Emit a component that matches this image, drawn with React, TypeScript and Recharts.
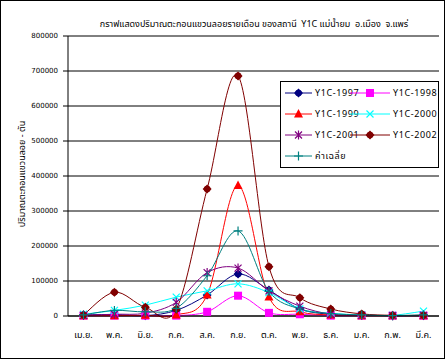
import React from 'react'
import { LineChart, Line, XAxis, YAxis, CartesianGrid, ReferenceLine, Legend } from 'recharts'

const months = ['เม.ย.', 'พ.ค.', 'มิ.ย.', 'ก.ค.', 'ส.ค.', 'ก.ย.', 'ต.ค.', 'พ.ย.', 'ธ.ค.', 'ม.ค.', 'ก.พ.', 'มี.ค.']
const y1997 = [3000, 4000, 1000, 16000, 60000, 120000, 74000, 20000, 5000, 2000, 1000, 1000]
const y1998 = [1000, 1000, 1000, 1000, 12000, 58000, 9000, 5000, 1000, 1000, 1000, 1000]
const y1999 = [1000, 1000, 2000, 3000, 60000, 373000, 54000, 12000, 3000, 1000, 1000, 1000]
const y2000 = [5000, 16000, 31000, 54000, 72000, 92000, 67000, 20000, 8000, 3000, 2000, 14000]
const y2001 = [2000, 5000, 8000, 39000, 124000, 137000, 72000, 28000, 5000, 2000, 1000, 2000]
const y2002 = [3000, 68000, 25000, 19000, 363000, 686000, 141000, 52000, 20000, 6000, 2000, 2000]
const average = [3000, 16000, 12000, 22000, 115000, 243000, 70000, 20000, 7000, 3000, 1000, 3000]
const yTicks = [0, 100000, 200000, 300000, 400000, 500000, 600000, 700000, 800000]
const edgeTicks = [0, 1, 2, 3, 4, 5, 6, 7, 8, 9, 10, 11, 12]

const data = months.map((m, i) => ({
  month: m,
  y1997: y1997[i],
  y1998: y1998[i],
  y1999: y1999[i],
  y2000: y2000[i],
  y2001: y2001[i],
  y2002: y2002[i],
  avg: average[i],
}))

type Kind = 'diamond' | 'square' | 'triangle' | 'cross' | 'star' | 'plus'

const series: { key: string; name: string; color: string; kind: Kind }[] = [
  { key: 'y1997', name: 'Y1C-1997', color: '#000080', kind: 'diamond' },
  { key: 'y1998', name: 'Y1C-1998', color: '#FF00FF', kind: 'square' },
  { key: 'y1999', name: 'Y1C-1999', color: '#FF0000', kind: 'triangle' },
  { key: 'y2000', name: 'Y1C-2000', color: '#00FFFF', kind: 'cross' },
  { key: 'y2001', name: 'Y1C-2001', color: '#800080', kind: 'star' },
  { key: 'y2002', name: 'Y1C-2002', color: '#800000', kind: 'diamond' },
  { key: 'avg', name: 'ค่าเฉลี่ย', color: '#008080', kind: 'plus' },
]

const FONT = '"Noto Sans Thai", Tahoma, "DejaVu Sans", sans-serif'

// excel style smoothing (catmull-rom as bezier)
const excelSmooth = (context: any) => {
  let pts: number[][] = []
  return {
    areaStart() {},
    areaEnd() {},
    lineStart() {
      pts = []
    },
    point(x: number, y: number) {
      pts.push([+x, +y])
    },
    lineEnd() {
      const n = pts.length
      if (!n) return
      context.moveTo(pts[0][0], pts[0][1])
      for (let i = 0; i < n - 1; i++) {
        const p0 = pts[Math.max(i - 1, 0)]
        const p1 = pts[i]
        const p2 = pts[i + 1]
        const p3 = pts[Math.min(i + 2, n - 1)]
        context.bezierCurveTo(
          p1[0] + (p2[0] - p0[0]) / 6,
          p1[1] + (p2[1] - p0[1]) / 6,
          p2[0] - (p3[0] - p1[0]) / 6,
          p2[1] - (p3[1] - p1[1]) / 6,
          p2[0],
          p2[1]
        )
      }
    },
  }
}

const Marker = ({ cx, cy, kind, color }: { cx: number; cy: number; kind: Kind; color: string }) => {
  if (kind === 'diamond')
    return (
      <g>
        <path d={`M${cx},${cy - 4.5}L${cx + 4.5},${cy}L${cx},${cy + 4.5}L${cx - 4.5},${cy}Z`} fill={color} />
        <circle cx={cx} cy={cy} r={3.3} fill={color} />
      </g>
    )
  if (kind === 'square') return <rect x={cx - 4} y={cy - 4} width={8} height={8} fill={color} />
  if (kind === 'triangle')
    return <path d={`M${cx},${cy - 5}L${cx + 4.5},${cy + 3.5}L${cx - 4.5},${cy + 3.5}Z`} fill={color} />
  if (kind === 'cross')
    return (
      <path d={`M${cx - 3.5},${cy - 3.5}L${cx + 3.5},${cy + 3.5}M${cx + 3.5},${cy - 3.5}L${cx - 3.5},${cy + 3.5}`} stroke={color} strokeWidth={1.2} />
    )
  if (kind === 'star')
    return (
      <path
        d={`M${cx - 3.5},${cy - 3.5}L${cx + 3.5},${cy + 3.5}M${cx + 3.5},${cy - 3.5}L${cx - 3.5},${cy + 3.5}M${cx},${cy - 4.5}L${cx},${cy + 4.5}`}
        stroke={color}
        strokeWidth={1.2}
      />
    )
  return <path d={`M${cx - 4.5},${cy}L${cx + 4.5},${cy}M${cx},${cy - 4.5}L${cx},${cy + 4.5}`} stroke={color} strokeWidth={1.2} />
}

const LegendBox = () => (
  <div
    style={{
      width: 157,
      height: 85,
      border: '1px solid #000',
      background: '#fff',
      position: 'relative',
      fontFamily: FONT,
      fontSize: 9,
    }}
  >
    {series.map((s, i) => {
      const col = i % 2
      const row = Math.floor(i / 2)
      const left = col === 0 ? 4 : 69
      const top = 11 + row * 21
      const lineW = col === 0 ? 27 : 40
      return (
        <div key={s.key} style={{ position: 'absolute', left, top: top - 7, height: 14, display: 'flex', alignItems: 'center' }}>
          <svg width={lineW} height={14}>
            <line x1={0} y1={7} x2={lineW} y2={7} stroke={s.color} strokeWidth={1} />
            <Marker cx={lineW / 2} cy={7} kind={s.kind} color={s.color} />
          </svg>
          <span style={{ marginLeft: 3, letterSpacing: 0.6, whiteSpace: 'nowrap' }}>{s.name}</span>
        </div>
      )
    })}
  </div>
)

export default function App() {
  return (
    <div style={{ position: 'absolute', left: 0, top: 0, width: 445, height: 359, background: '#fff' }}>
      <LineChart width={445} height={359} data={data} margin={{ top: 36, right: 6, bottom: 13, left: 8 }}>
        <CartesianGrid vertical={false} stroke="#000" strokeWidth={1} />
        <XAxis
          xAxisId="edge"
          type="number"
          domain={[0, 12]}
          ticks={edgeTicks}
          tick={false}
          axisLine={false}
          tickLine={{ stroke: '#000' }}
          tickSize={4}
          height={0}
        />
        <XAxis
          xAxisId="cat"
          dataKey="month"
          interval={0}
          padding={{ left: 15.5, right: 15.5 }}
          tickLine={false}
          axisLine={{ stroke: '#000' }}
          tickSize={4}
          tickMargin={12}
          height={30}
          tick={{ fontSize: 9, fill: '#000', fontFamily: FONT }}
        />
        <YAxis
          domain={[0, 800000]}
          ticks={yTicks}
          interval={0}
          width={60}
          axisLine={{ stroke: '#000' }}
          tickLine={{ stroke: '#000' }}
          tickSize={5}
          tickMargin={5}
          tick={{ fontSize: 7, fill: '#000', fontFamily: '"DejaVu Sans", sans-serif' }}
        />
        <ReferenceLine y={800000} xAxisId="cat" stroke="#808080" />
        <ReferenceLine x={12} xAxisId="edge" stroke="#808080" />
        {series.map((s) => (
          <Line
            key={s.key}
            xAxisId="cat"
            dataKey={s.key}
            name={s.name}
            stroke={s.color}
            strokeWidth={1}
            type={excelSmooth as any}
            isAnimationActive={false}
            dot={(p: any) => <Marker key={`${s.key}-${p.index}`} cx={p.cx} cy={p.cy} kind={s.kind} color={s.color} />}
            activeDot={false}
          />
        ))}
        <Legend
          layout="horizontal"
          verticalAlign="middle"
          align="center"
          wrapperStyle={{ left: 280, top: 81, width: 159, height: 87 }}
          content={() => <LegendBox />}
        />
      </LineChart>
      <div
        style={{
          position: 'absolute',
          left: 0,
          top: 17,
          width: 508,
          textAlign: 'center',
          fontFamily: FONT,
          fontSize: 9,
          whiteSpace: 'nowrap',
        }}
      >
        กราฟแสดงปริมาณตะกอนแขวนลอยรายเดือน ของสถานี&nbsp; Y1C แม่น้ำยม&nbsp; อ.เมือง&nbsp; จ.แพร่
      </div>
      <div
        style={{
          position: 'absolute',
          left: 22,
          top: 174,
          transform: 'translate(-50%, -50%) rotate(-90deg)',
          fontFamily: FONT,
          fontSize: 9,
          whiteSpace: 'nowrap',
        }}
      >
        ปริมาณตะกอนแขวนลอย - ตัน
      </div>
      <div
        style={{
          position: 'absolute',
          left: 0,
          top: 0,
          width: 445,
          height: 359,
          boxSizing: 'border-box',
          border: '1px solid #000',
          pointerEvents: 'none',
        }}
      />
    </div>
  )
}
